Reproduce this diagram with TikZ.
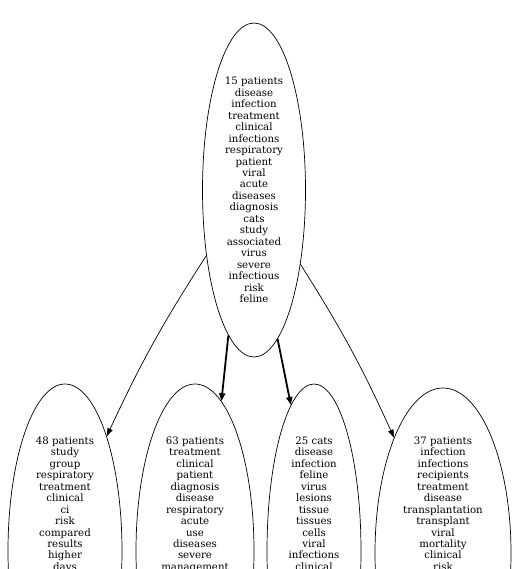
\documentclass[tikz,border=0pt]{standalone}
\usepackage{fontspec}
\setmainfont{DejaVu Serif}
\usetikzlibrary{shapes.geometric,arrows.meta}

\begin{document}
\begin{tikzpicture}[x=1pt,y=-1pt,
    topic/.style={draw,ellipse,line width=0.7pt,inner sep=0pt},
    words/.style={align=center,inner sep=0pt,font=\fontsize{10.2}{11.47}\selectfont},
    link/.style={line width=0.7pt,-{Triangle[length=8pt,width=5.5pt]}},
    biglink/.style={line width=1.8pt,-{Triangle[length=8pt,width=6pt]}}]
\useasboundingbox (0,0) rectangle (526,569);
\clip (0,0) rectangle (526,569);
% root topic
\node[topic,words,minimum width=103pt,minimum height=334pt] (t15) at (254,190)
  {15 patients\\disease\\infection\\treatment\\clinical\\infections\\respiratory\\patient\\viral\\acute\\diseases\\diagnosis\\cats\\study\\associated\\virus\\severe\\infectious\\risk\\feline};
% child topics
\node[topic,minimum width=114pt,minimum height=334pt] (t48) at (65,551) {};
\node[topic,minimum width=118pt,minimum height=334pt] (t63) at (195,551) {};
\node[topic,minimum width=94pt,minimum height=334pt] (t25) at (314,551) {};
\node[topic,minimum width=136pt,minimum height=330pt] (t37) at (443,553) {};
\node[words,anchor=north] (w48) at (65,436.5)
  {48 patients\\study\\group\\respiratory\\treatment\\clinical\\ci\\risk\\compared\\results\\higher\\days};
\node[words,anchor=north] (w63) at (195,436.5)
  {63 patients\\treatment\\clinical\\patient\\diagnosis\\disease\\respiratory\\acute\\use\\diseases\\severe\\management};
\node[words,anchor=north] (w25) at (314,436.5)
  {25 cats\\disease\\infection\\feline\\virus\\lesions\\tissue\\tissues\\cells\\viral\\infections\\clinical};
\node[words,anchor=north] (w37) at (443,436.5)
  {37 patients\\infection\\infections\\recipients\\treatment\\disease\\transplantation\\transplant\\viral\\mortality\\clinical\\risk};
% links
\draw[link] (t15.234.6) to[bend right=4] (t48.70.6);
\draw[biglink] (t15.260.9) -- (t63.80.7);
\draw[biglink] (t15.279.5) -- (t25.99.5);
\draw[link] (t15.302.3) to[bend left=4] (t37.113.3);
\end{tikzpicture}
\end{document}
